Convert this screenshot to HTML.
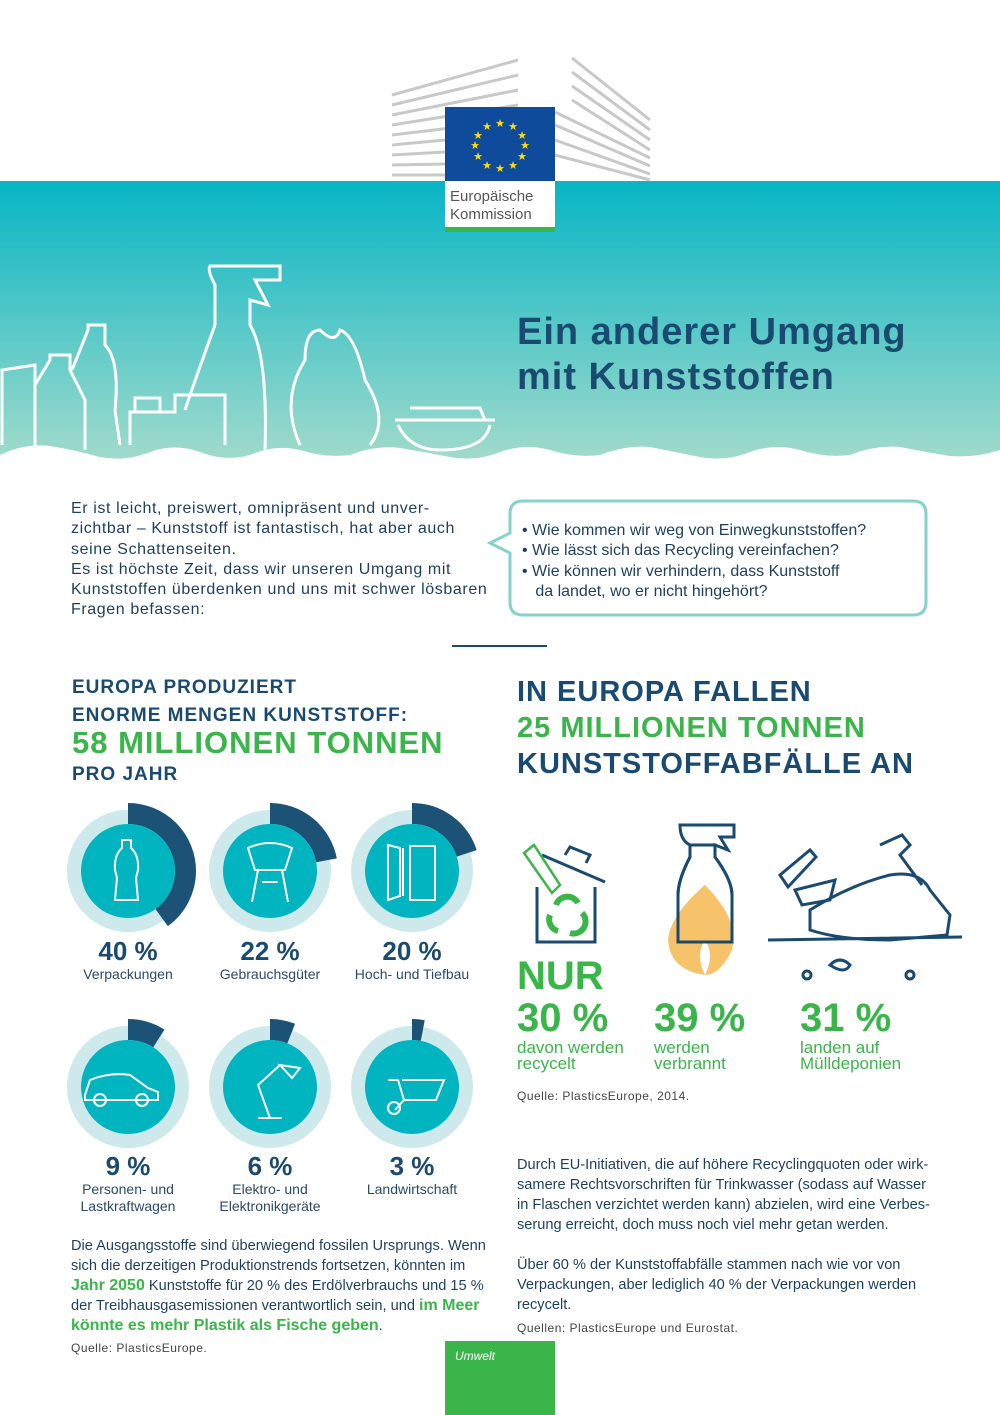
<!DOCTYPE html>
<html><head><meta charset="utf-8"><style>
*{margin:0;padding:0;box-sizing:border-box}
body{width:1000px;height:1415px;position:relative;background:#fff;font-family:"Liberation Sans",sans-serif;color:#1d3f5f;overflow:hidden}
.a{position:absolute;white-space:nowrap}
.h{font-weight:bold;color:#1b4a70;letter-spacing:1px}
.g{color:#3ab54a;font-weight:bold}
.p{font-size:15px;line-height:20px;color:#1d3f5f}
.pc{font-size:26px;font-weight:bold;color:#1b4a70;text-align:center;width:140px}
.cap{font-size:14px;text-align:center;width:160px;line-height:17px;color:#2c4a66}
</style></head><body>
<svg class="a" style="left:0;top:0" width="1000" height="470">
<defs><linearGradient id="bg" x1="0" y1="0" x2="0" y2="1"><stop offset="0" stop-color="#07b5c5"/><stop offset="1" stop-color="#a6dccb"/></linearGradient></defs>
<rect x="0" y="181" width="1000" height="290" fill="url(#bg)"/>
<g stroke="#c8c8c8" stroke-width="3">
<line x1="392" y1="95" x2="518" y2="60"/><line x1="392" y1="105" x2="518" y2="75"/><line x1="392" y1="115" x2="518" y2="90"/><line x1="392" y1="125" x2="518" y2="105"/><line x1="392" y1="135" x2="518" y2="120"/><line x1="392" y1="145" x2="445" y2="140"/><line x1="392" y1="155" x2="445" y2="152"/><line x1="392" y1="165" x2="445" y2="164"/><line x1="392" y1="175" x2="445" y2="175"/>
<line x1="572" y1="58" x2="650" y2="120"/><line x1="572" y1="72" x2="650" y2="130"/><line x1="572" y1="86" x2="650" y2="140"/><line x1="572" y1="100" x2="650" y2="150"/><line x1="555" y1="112" x2="650" y2="158"/><line x1="555" y1="125" x2="650" y2="166"/><line x1="555" y1="140" x2="650" y2="174"/><line x1="555" y1="155" x2="650" y2="180"/>
</g>
<rect x="445" y="107" width="110" height="74" fill="#0e4c9b"/>
<g fill="#ffdd00" font-size="11" text-anchor="middle" font-family="DejaVu Sans">
<text x="500" y="127">★</text><text x="513" y="130">★</text><text x="522" y="139">★</text><text x="525" y="149">★</text><text x="522" y="160">★</text><text x="513" y="169">★</text><text x="500" y="172">★</text><text x="487" y="169">★</text><text x="478" y="160">★</text><text x="475" y="149">★</text><text x="478" y="139">★</text><text x="487" y="130">★</text>
</g>
<rect x="445" y="181" width="110" height="51" fill="#fff"/><rect x="445" y="227" width="110" height="5" fill="#3ab54a"/>
<text x="450" y="201" font-size="15" fill="#555">Europäische</text><text x="450" y="219" font-size="15" fill="#555">Kommission</text>
<g fill="none" stroke="#fff" stroke-width="3">
<path d="M2,445 L2,370 L35,365 L35,450"/><path d="M35,455 L35,385 L50,360 L50,355 L70,355 L70,370 L85,400 L85,450"/>
<path d="M72,370 L88,330 L88,325 L105,325 L105,345 Q120,360 115,410 L120,445"/>
<path d="M215,325 L215,285 Q207,270 210,266 L280,266 L280,280 L255,280 L268,305 L250,300 L250,325 Q268,355 265,450"/>
<path d="M215,325 Q195,380 185,410"/>
<path d="M130,445 L130,412 L175,412 L175,395 L225,395 L225,445"/><rect x="135" y="398" width="25" height="14"/>
<path d="M300,445 Q280,400 305,360 Q305,330 320,330 Q335,345 340,330 Q355,335 365,380 Q390,420 370,445"/>
<path d="M395,420 L495,420 M410,408 L480,408 L485,420 M398,425 Q410,450 440,450 Q485,450 490,425"/>
</g>
<path d="M0,470 L0,455 Q25,443 50,446 Q75,450 100,457 Q125,462 150,452 Q175,443 200,452 Q225,462 250,455 Q275,444 300,450 Q325,458 350,455 Q375,445 400,448 Q425,452 450,457 Q475,462 500,452 Q525,443 550,450 Q575,458 600,455 Q625,445 650,447 Q675,452 700,457 Q725,462 750,452 Q775,443 800,450 Q825,458 850,455 Q875,445 900,447 Q925,452 950,456 Q975,458 1000,450 L1000,470 Z" fill="#fff"/>
</svg>
<div class="a" style="left:517px;top:310px;font-size:38px;font-weight:bold;color:#1b4a70;line-height:45px;letter-spacing:1px">Ein anderer Umgang<br>mit Kunststoffen</div>
<div class="a" style="left:71px;top:499px;font-size:16px;line-height:20.3px;letter-spacing:0.6px;color:#1d3f5f">Er ist leicht, preiswert, omnipräsent und unver-<br>zichtbar – Kunststoff ist fantastisch, hat aber auch<br>seine Schattenseiten.<br>Es ist höchste Zeit, dass wir unseren Umgang mit<br>Kunststoffen überdenken und uns mit schwer lösbaren<br>Fragen befassen:</div>
<svg class="a" style="left:485px;top:498px" width="450" height="125"><path d="M38,3 L428,3 Q441,3 441,16 L441,104 Q441,117 428,117 L38,117 Q25,117 25,104 L25,55 L5,45 L25,35 L25,16 Q25,3 38,3 Z" fill="#fff" stroke="#86d2cb" stroke-width="3"/></svg>
<div class="a" style="left:522px;top:521px;font-size:16px;line-height:20.3px;color:#1d3f5f">• Wie kommen wir weg von Einwegkunststoffen?<br>• Wie lässt sich das Recycling vereinfachen?<br>• Wie können wir verhindern, dass Kunststoff<br>&nbsp;&nbsp;&nbsp;da landet, wo er nicht hingehört?</div>
<div class="a" style="left:452px;top:645px;width:95px;height:2px;background:#1b4a70"></div>
<div class="a h" style="left:72px;top:674px;font-size:19px;line-height:28px">EUROPA PRODUZIERT<br>ENORME MENGEN KUNSTSTOFF:</div>
<div class="a g" style="left:72px;top:725px;font-size:31px;letter-spacing:1px">58 MILLIONEN TONNEN</div>
<div class="a h" style="left:72px;top:764px;font-size:19px">PRO JAHR</div>
<div class="a h" style="left:517px;top:674px;font-size:29px;line-height:36px;letter-spacing:1px">IN EUROPA FALLEN<br><span style="color:#3ab54a">25 MILLIONEN TONNEN</span><br>KUNSTSTOFFABFÄLLE AN</div>
<svg class="a" style="left:0;top:780px" width="500" height="400">
<g transform="translate(0,-780)">
<g fill="#cde9ec"><circle cx="128" cy="871" r="61"/><circle cx="270" cy="871" r="61"/><circle cx="412" cy="871" r="61"/><circle cx="128" cy="1087" r="61"/><circle cx="270" cy="1087" r="61"/><circle cx="412" cy="1087" r="61"/></g>
<g fill="none" stroke="#1b5276" stroke-width="21">
<circle cx="128" cy="871" r="57.5" stroke-dasharray="144.5 400" transform="rotate(-90 128 871)"/>
<circle cx="270" cy="871" r="57.5" stroke-dasharray="79.5 400" transform="rotate(-90 270 871)"/>
<circle cx="412" cy="871" r="57.5" stroke-dasharray="72.3 400" transform="rotate(-90 412 871)"/>
<circle cx="128" cy="1087" r="57.5" stroke-dasharray="32.5 400" transform="rotate(-90 128 1087)"/>
<circle cx="270" cy="1087" r="57.5" stroke-dasharray="21.7 400" transform="rotate(-90 270 1087)"/>
<circle cx="412" cy="1087" r="57.5" stroke-dasharray="10.8 400" transform="rotate(-90 412 1087)"/>
</g>
<g fill="#00b5c0"><circle cx="128" cy="871" r="47"/><circle cx="270" cy="871" r="47"/><circle cx="412" cy="871" r="47"/><circle cx="128" cy="1087" r="47"/><circle cx="270" cy="1087" r="47"/><circle cx="412" cy="1087" r="47"/></g>
<g fill="none" stroke="#fff" stroke-width="2">
<path d="M122,840 L122,848 Q114,855 115,870 L117,878 L115,900 L138,900 L136,878 L138,870 Q139,855 131,848 L131,840 Z"/>
<path d="M248,848 Q270,838 292,848 L285,870 L255,870 Z M258,870 L252,902 M282,870 L288,902 M262,882 L278,882"/>
<path d="M388,845 L400,848 L400,896 L388,900 Z M403,848 L403,896 M410,846 L435,846 L435,900 L410,900 Z"/>
<path d="M85,1095 L90,1080 Q110,1072 130,1075 L148,1088 L158,1092 L158,1100 L85,1100 Z"/><circle cx="100" cy="1100" r="6"/><circle cx="142" cy="1100" r="6"/>
<path d="M258,1118 L282,1118 M270,1118 L258,1085 L280,1065 M280,1065 L292,1078 L300,1068 Z"/>
<path d="M388,1080 L398,1080 L404,1100 L436,1100 L444,1080 L402,1080 M404,1100 L395,1110"/><circle cx="394" cy="1108" r="6"/>
</g>
</g></svg>
<div class="a pc" style="left:58px;top:936px">40 %</div><div class="a cap" style="left:48px;top:966px">Verpackungen</div>
<div class="a pc" style="left:200px;top:936px">22 %</div><div class="a cap" style="left:190px;top:966px">Gebrauchsgüter</div>
<div class="a pc" style="left:342px;top:936px">20 %</div><div class="a cap" style="left:332px;top:966px">Hoch- und Tiefbau</div>
<div class="a pc" style="left:58px;top:1151px">9 %</div><div class="a cap" style="left:48px;top:1181px">Personen- und<br>Lastkraftwagen</div>
<div class="a pc" style="left:200px;top:1151px">6 %</div><div class="a cap" style="left:190px;top:1181px">Elektro- und<br>Elektronikgeräte</div>
<div class="a pc" style="left:342px;top:1151px">3 %</div><div class="a cap" style="left:332px;top:1181px">Landwirtschaft</div>
<svg class="a" style="left:510px;top:815px" width="460" height="180">
<g fill="none" stroke="#1b4a70" stroke-width="3">
<path d="M27,72 L27,127 L85,127 L85,72"/><path d="M32,40 L95,67 M55,40 L60,32 L80,40 L76,48"/>
<path d="M170,10 L224,10 L224,22 L210,22 L218,35 L205,30 L205,42 Q222,65 222,80 L222,127 L168,127 L168,80 Q168,65 180,42 L180,30 Q170,25 170,10 Z"/>
<path d="M258,125 L452,122 M270,60 L300,35 L306,42 L278,72 Z M285,75 L325,65 L320,85 L292,90 Z M300,95 Q340,70 380,60 Q410,55 420,75 L440,100 L437,120 L380,125 Q330,125 300,115 Z M370,30 L392,20 L400,30 L390,40 L412,70"/>
<circle cx="297" cy="160" r="4"/><circle cx="400" cy="160" r="4"/><path d="M320,150 Q330,140 340,150 Q335,160 320,150 Z"/>
</g>
<path d="M14,38 L24,30 L50,70 L42,78 Z" fill="none" stroke="#3ab54a" stroke-width="2.5"/>
<g fill="none" stroke="#3ab54a" stroke-width="6"><path d="M46,90 A12,12 0 0 1 68,88"/><path d="M72,98 A12,12 0 0 1 60,118"/><path d="M48,116 A12,12 0 0 1 40,100"/></g>
<path d="M195,70 Q230,105 222,135 Q210,160 195,160 Q205,140 195,125 Q185,140 195,160 Q160,155 158,125 Q160,100 195,70 Z" fill="#f6c36b"/>
<path d="M180,42 L180,30 L205,30 L205,42 Q222,65 222,80 L222,127 L168,127 L168,80 Q168,65 180,42 Z" fill="none" stroke="#1b4a70" stroke-width="3"/>
</svg>
<div class="a g" style="left:517px;top:955px;font-size:40px;line-height:42px">NUR<br>30 %</div>
<div class="a g" style="left:654px;top:997px;font-size:40px;line-height:42px">39 %</div>
<div class="a g" style="left:800px;top:997px;font-size:40px;line-height:42px">31 %</div>
<div class="a" style="left:517px;top:1040px;font-size:17px;line-height:16px;color:#3ab54a">davon werden<br>recycelt</div>
<div class="a" style="left:654px;top:1040px;font-size:17px;line-height:16px;color:#3ab54a">werden<br>verbrannt</div>
<div class="a" style="left:800px;top:1040px;font-size:17px;line-height:16px;color:#3ab54a">landen auf<br>Mülldeponien</div>
<div class="a" style="left:517px;top:1089px;font-size:12px;color:#444;letter-spacing:0.5px">Quelle: PlasticsEurope, 2014.</div>
<div class="a p" style="left:517px;top:1155px;font-size:14.6px">Durch EU-Initiativen, die auf höhere Recyclingquoten oder wirk-<br>samere Rechtsvorschriften für Trinkwasser (sodass auf Wasser<br>in Flaschen verzichtet werden kann) abzielen, wird eine Verbes-<br>serung erreicht, doch muss noch viel mehr getan werden.<br><br>Über 60 % der Kunststoffabfälle stammen nach wie vor von<br>Verpackungen, aber lediglich 40 % der Verpackungen werden<br>recycelt.</div>
<div class="a" style="left:517px;top:1321px;font-size:12px;color:#444;letter-spacing:0.5px">Quellen: PlasticsEurope und Eurostat.</div>
<div class="a p" style="left:71px;top:1236px;font-size:14.6px">Die Ausgangsstoffe sind überwiegend fossilen Ursprungs. Wenn<br>sich die derzeitigen Produktionstrends fortsetzen, könnten im<br><b class="g" style="font-size:16px">Jahr 2050</b> Kunststoffe für 20 % des Erdölverbrauchs und 15 %<br>der Treibhausgasemissionen verantwortlich sein, und <b class="g" style="font-size:16px">im Meer</b><br><b class="g" style="font-size:16px">könnte es mehr Plastik als Fische geben</b>.</div>
<div class="a" style="left:71px;top:1341px;font-size:12px;color:#444;letter-spacing:0.5px">Quelle: PlasticsEurope.</div>
<div class="a" style="left:445px;top:1341px;width:110px;height:74px;background:#3ab54a"></div>
<div class="a" style="left:455px;top:1349px;font-size:12px;font-style:italic;color:#fff">Umwelt</div>
</body></html>
